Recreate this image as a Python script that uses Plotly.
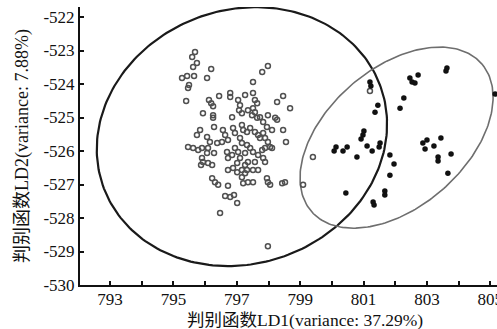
import numpy as np
import plotly.graph_objects as go

# Group A (open gray circles)
group_a_x = [795.68, 795.59, 795.74, 795.62, 796.19, 795.27, 795.43, 795.65, 796.06, 795.49, 795.46, 795.40,
             797.98, 797.80, 797.51, 796.79, 796.79, 797.26, 797.51, 796.44, 798.46, 798.27, 798.68,
             796.12, 796.19, 796.25, 795.93, 796.25, 796.25, 797.04, 797.10, 797.07, 797.16, 796.85,
             797.57, 797.64, 797.51, 795.84, 795.74, 796.06, 796.15, 796.28, 796.56, 796.63, 796.88,
             796.94, 796.53, 796.72, 797.10, 797.16, 795.46, 795.62, 795.78, 795.90, 796.09, 796.06,
             796.28, 796.69, 796.85, 796.72, 796.94, 797.04, 797.10, 797.01, 795.90, 795.93, 795.87,
             796.09, 796.22, 796.72, 796.88, 797.01, 797.16, 796.38, 797.35, 797.57, 797.48, 797.64,
             797.73, 797.83, 797.98, 798.21, 797.95, 798.11, 798.27, 798.46, 797.16, 797.20, 797.32,
             797.42, 797.57, 797.67, 797.73, 797.83, 797.89, 797.98, 798.05, 798.55, 797.32, 797.42,
             797.26, 797.51, 797.67, 797.80, 797.89, 798.11, 797.26, 797.35, 797.57, 797.83, 797.89,
             797.51, 797.67, 797.32, 796.22, 796.31, 796.41, 796.72, 796.63, 796.79, 796.91, 797.01,
             796.47, 797.16, 797.20, 797.26, 797.35, 797.51, 797.95, 797.98, 798.05, 798.43, 798.52,
             799.09, 797.98, 799.40, 801.20]
group_a_y = [-523.04, -523.19, -523.37, -523.49, -523.55, -523.82, -523.76, -523.76, -523.82, -524.03, -524.12, -524.51,
             -523.46, -523.64, -523.94, -524.27, -524.39, -524.33, -524.27, -524.36, -524.36, -524.54, -524.72,
             -524.48, -524.57, -524.66, -524.87, -524.93, -525.01, -524.48, -524.63, -524.78, -524.87, -524.99,
             -524.48, -524.57, -524.72, -525.37, -525.52, -525.58, -525.73, -525.28, -525.37, -525.52, -525.31,
             -525.46, -525.73, -525.67, -525.61, -525.76, -525.88, -525.91, -525.97, -525.91, -525.91, -526.06,
             -526.06, -526.03, -526.12, -526.21, -525.91, -526.03, -526.21, -526.36, -526.21, -526.33, -526.42,
             -526.36, -526.42, -526.57, -526.51, -526.63, -526.57, -525.76, -524.78, -524.84, -524.93, -525.01,
             -524.99, -525.13, -524.93, -525.01, -525.28, -525.37, -525.07, -525.37, -525.22, -525.37, -525.43,
             -525.31, -525.43, -525.52, -525.61, -525.46, -525.61, -525.73, -525.88, -525.73, -525.82, -525.91,
             -526.06, -526.03, -526.12, -525.97, -525.91, -525.91, -526.42, -526.33, -526.33, -526.21, -526.33,
             -526.57, -526.57, -526.57, -526.81, -526.93, -527.01, -527.04, -527.34, -527.37, -527.31, -527.55,
             -527.85, -526.78, -526.96, -526.66, -526.93, -526.93, -526.81, -526.93, -527.01, -526.96, -526.93,
             -527.01, -528.84, -526.18, -524.21]

# Group B (filled black dots)
group_b_x = [801.20, 801.23, 801.45, 801.36, 802.15, 801.01, 800.98, 800.92, 800.13, 800.07, 800.48, 800.35,
             801.11, 801.27, 800.79, 801.52, 801.49, 801.83, 801.96, 801.83, 800.44, 801.67, 801.67, 801.30,
             801.33, 803.63, 803.60, 802.46, 802.53, 802.62, 802.72, 802.27, 805.15, 803.00, 802.87, 802.94,
             803.44, 803.22, 803.76, 803.35, 803.35, 803.66]
group_b_y = [-523.94, -524.06, -524.63, -524.84, -524.72, -525.40, -525.52, -525.64, -525.88, -526.00, -525.88, -526.00,
             -525.85, -526.00, -526.18, -525.76, -525.88, -526.12, -526.39, -526.72, -527.25, -527.19, -527.31, -527.52,
             -527.61, -523.52, -523.61, -523.82, -523.94, -523.97, -523.73, -524.42, -524.30, -525.67, -525.76, -525.94,
             -525.61, -525.85, -526.09, -526.18, -526.30, -526.66]

# Confidence ellipses: centre and axis vectors (data units)
ellipse_a_center = (797.16, -525.57)
ellipse_a_cos = (4.372, 1.505)
ellipse_a_sin = (-1.369, 3.560)
ellipse_b_center = (802.04, -525.60)
ellipse_b_cos = (2.688, 2.204)
ellipse_b_sin = (-1.435, 1.566)

x_ticks = list(range(793, 806))
y_ticks = list(range(-530, -521))

FONT = "Liberation Serif, Times New Roman, Noto Sans CJK SC, serif"


def ellipse(center, cvec, svec, n=240):
    t = np.linspace(0, 2 * np.pi, n)
    x = center[0] + cvec[0] * np.cos(t) + svec[0] * np.sin(t)
    y = center[1] + cvec[1] * np.cos(t) + svec[1] * np.sin(t)
    return x, y


fig = go.Figure()
ex, ey = ellipse(ellipse_a_center, ellipse_a_cos, ellipse_a_sin)
fig.add_trace(go.Scatter(x=ex, y=ey, mode="lines", line=dict(color="#1a1a1a", width=2.2),
                         hoverinfo="skip", showlegend=False))
ex, ey = ellipse(ellipse_b_center, ellipse_b_cos, ellipse_b_sin)
fig.add_trace(go.Scatter(x=ex, y=ey, mode="lines", line=dict(color="#6e6e6e", width=1.6),
                         hoverinfo="skip", showlegend=False))
fig.add_trace(go.Scatter(x=group_a_x, y=group_a_y, mode="markers",
                         marker=dict(symbol="circle-open", size=5, color="#505050", line=dict(width=1.5)),
                         showlegend=False))
fig.add_trace(go.Scatter(x=group_b_x, y=group_b_y, mode="markers",
                         marker=dict(symbol="circle", size=5.5, color="#111111"),
                         showlegend=False))

fig.update_layout(
    width=497, height=329,
    margin=dict(l=80, r=0, t=7, b=44),
    paper_bgcolor="white", plot_bgcolor="white",
    font=dict(family=FONT, size=17, color="#111111"),
    xaxis=dict(range=[792.05, 805.21], tickmode="array", tickvals=x_ticks,
               ticktext=[str(v) if v % 2 == 1 else "" for v in x_ticks],
               ticks="inside", ticklen=4, tickwidth=1.5, tickcolor="#111",
               ticklabelstandoff=-2, ticklabeloverflow="allow", automargin=False,
               showline=True, linecolor="#111", linewidth=2, showgrid=False, zeroline=False,
               tickfont=dict(size=17)),
    yaxis=dict(range=[-530, -521.7], tickmode="array", tickvals=y_ticks,
               ticktext=[str(v) for v in y_ticks],
               ticks="inside", ticklen=4, tickwidth=1.5, tickcolor="#111",
               automargin=False,
               showline=True, linecolor="#111", linewidth=2, showgrid=False, zeroline=False,
               tickfont=dict(size=17)),
    annotations=[
        dict(text="判别函数LD1(variance: 37.29%)", xref="paper", yref="paper", x=0.54, y=-0.127,
             xanchor="center", yanchor="middle", showarrow=False, font=dict(size=17.5)),
        dict(text="判别函数LD2(variance: 7.88%)", xref="paper", yref="paper", x=-0.139, y=0.5,
             xanchor="center", yanchor="middle", showarrow=False, textangle=-90, font=dict(size=18)),
    ],
)

fig.write_html("out.html", config={"displayModeBar": False},
               post_script="document.body.style.margin='0';")
